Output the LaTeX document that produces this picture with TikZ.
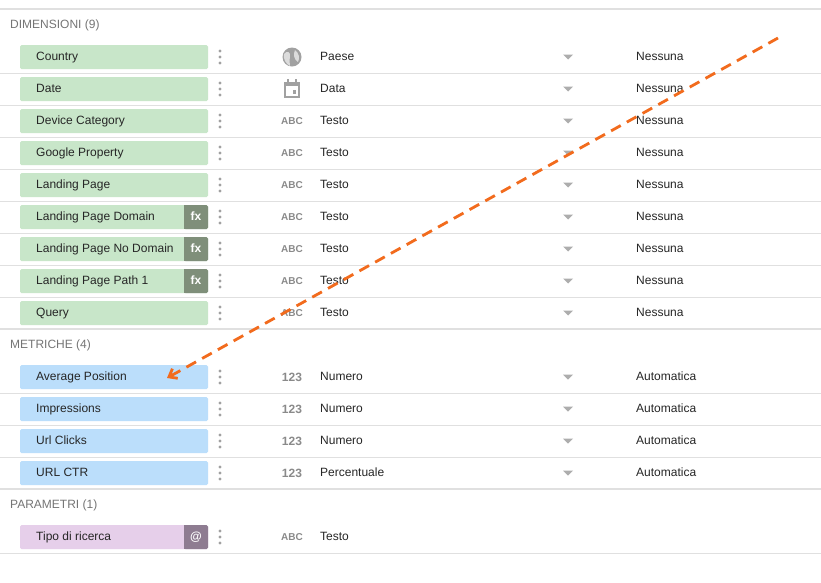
\documentclass[tikz,border=0pt]{standalone}
\usepackage{fontspec}
\setmainfont{Liberation Sans}
\usetikzlibrary{arrows.meta}
\definecolor{gr}{HTML}{C8E6C9}
\definecolor{bl}{HTML}{BBDEFB}
\definecolor{pu}{HTML}{E6CFEA}
\definecolor{fxc}{HTML}{7F8F7A}
\definecolor{atc}{HTML}{8E7C91}
\definecolor{ic}{HTML}{8A8A8A}
\definecolor{hd}{HTML}{757575}
\definecolor{ln}{HTML}{E0E0E0}
\definecolor{orng}{HTML}{F26B1D}
\tikzset{x=1pt,y=-1pt,
 txt/.style={font=\fontsize{12}{13}\selectfont,text=black!85,anchor=west,inner sep=0,text height=8.6,text depth=2.6},
 hdr/.style={txt,text=hd},
 tag/.style={font=\fontsize{12}{13}\selectfont\bfseries,text=white,inner sep=0,text height=8.6,text depth=2.6},
 abc/.style={font=\fontsize{10}{11}\selectfont\bfseries,text=ic,inner sep=0}}
\newcommand{\fieldrow}[7]{% y, fill, name, tag(0/fx/@), icon, type, agg
 \fill[#2,rounded corners=1.5] (20,#1-12) rectangle (208,#1+12);
 \node[txt] (n#1) at (36,#1) {#3};
 \ifx&#4&\else
  \fill[#4c,rounded corners=1.5] (184,#1-12) rectangle (208,#1+12);
  \fill[#4c] (184,#1-12) rectangle (195,#1+12);
  \node[tag] at (196,#1) {#7};
 \fi
 \foreach \d in {-6,0,6} \fill[ic!80] (220,#1+\d) circle (1.7);
 #5
 \node[txt] at (320,#1) {#6};
}
\newcommand{\ABC}[1]{\node[abc] at (292,#1) {ABC};}
\newcommand{\NUM}[1]{\node[abc,font=\fontsize{12}{13}\selectfont\bfseries] at (292,#1) {123};}
\newcommand{\tri}[1]{\fill[ic!70] (563,#1-2.5) -- (573,#1-2.5) -- (568,#1+2.5) -- cycle;}
\begin{document}
\begin{tikzpicture}
\useasboundingbox (0,0) rectangle (821,582);
\fill[white] (0,0) rectangle (821,582);
\draw[ln,line width=1.5] (0,9) -- (821,9);
\node[hdr] at (10,25) {DIMENSIONI (9)};
\foreach \y in {73,105,...,297} \draw[ln] (0,\y) -- (821,\y);
\draw[ln,line width=1.5] (0,329) -- (821,329);
\node[hdr] at (10,345) {METRICHE (4)};
\foreach \y in {393,425,457} \draw[ln] (0,\y) -- (821,\y);
\draw[ln,line width=1.5] (0,489) -- (821,489);
\node[hdr] at (10,505) {PARAMETRI (1)};
\draw[ln] (0,553) -- (821,553);
\fieldrow{57}{gr}{Country}{}{\fill[ic!80] (292,57) circle (9.5);
 \fill[white!70!ic] (284,54) .. controls (287,50) and (291,52) .. (290,57) .. controls (289,61) and (290,63) .. (290,66) .. controls (286,64) and (283,59) .. (284,54);
 \fill[white!70!ic] (295,50) .. controls (299,53) and (300,58) .. (298,62) .. controls (294,60) and (293,54) .. (295,50);}{Paese}{}
\fieldrow{89}{gr}{Date}{}{\draw[ic!80,line width=1.8] (285,83) rectangle (299,97); \draw[ic!80,line width=3] (285,84) -- (299,84);
 \draw[ic!80,line width=1.5] (288,79) -- (288,82) (296,79) -- (296,82); \fill[ic!80] (292.5,90) rectangle (296,93.5);}{Data}{}
\fieldrow{121}{gr}{Device Category}{}{\ABC{121}}{Testo}{}
\fieldrow{153}{gr}{Google Property}{}{\ABC{153}}{Testo}{}
\fieldrow{185}{gr}{Landing Page}{}{\ABC{185}}{Testo}{}
\fieldrow{217}{gr}{Landing Page Domain}{fx}{\ABC{217}}{Testo}{fx}
\fieldrow{249}{gr}{Landing Page No Domain}{fx}{\ABC{249}}{Testo}{fx}
\fieldrow{281}{gr}{Landing Page Path 1}{fx}{\ABC{281}}{Testo}{fx}
\fieldrow{313}{gr}{Query}{}{\ABC{313}}{Testo}{}
\fieldrow{377}{bl}{Average Position}{}{\NUM{377}}{Numero}{}
\fieldrow{409}{bl}{Impressions}{}{\NUM{409}}{Numero}{}
\fieldrow{441}{bl}{Url Clicks}{}{\NUM{441}}{Numero}{}
\fieldrow{473}{bl}{URL CTR}{}{\NUM{473}}{Percentuale}{}
\fieldrow{537}{pu}{Tipo di ricerca}{at}{\ABC{537}}{Testo}{@}
\foreach \y in {57,89,...,313} {\tri{\y} \node[txt] at (636,\y) {Nessuna};}
\foreach \y in {377,409,441,473} {\tri{\y} \node[txt] at (636,\y) {Automatica};}
\coordinate (s) at (778,38);
\coordinate (e) at (167,378);
\draw[orng,line width=2.8,dash pattern=on 11 off 7,-{Straight Barb[length=7,width=11]}] (s) -- (e);
\end{tikzpicture}
\end{document}
